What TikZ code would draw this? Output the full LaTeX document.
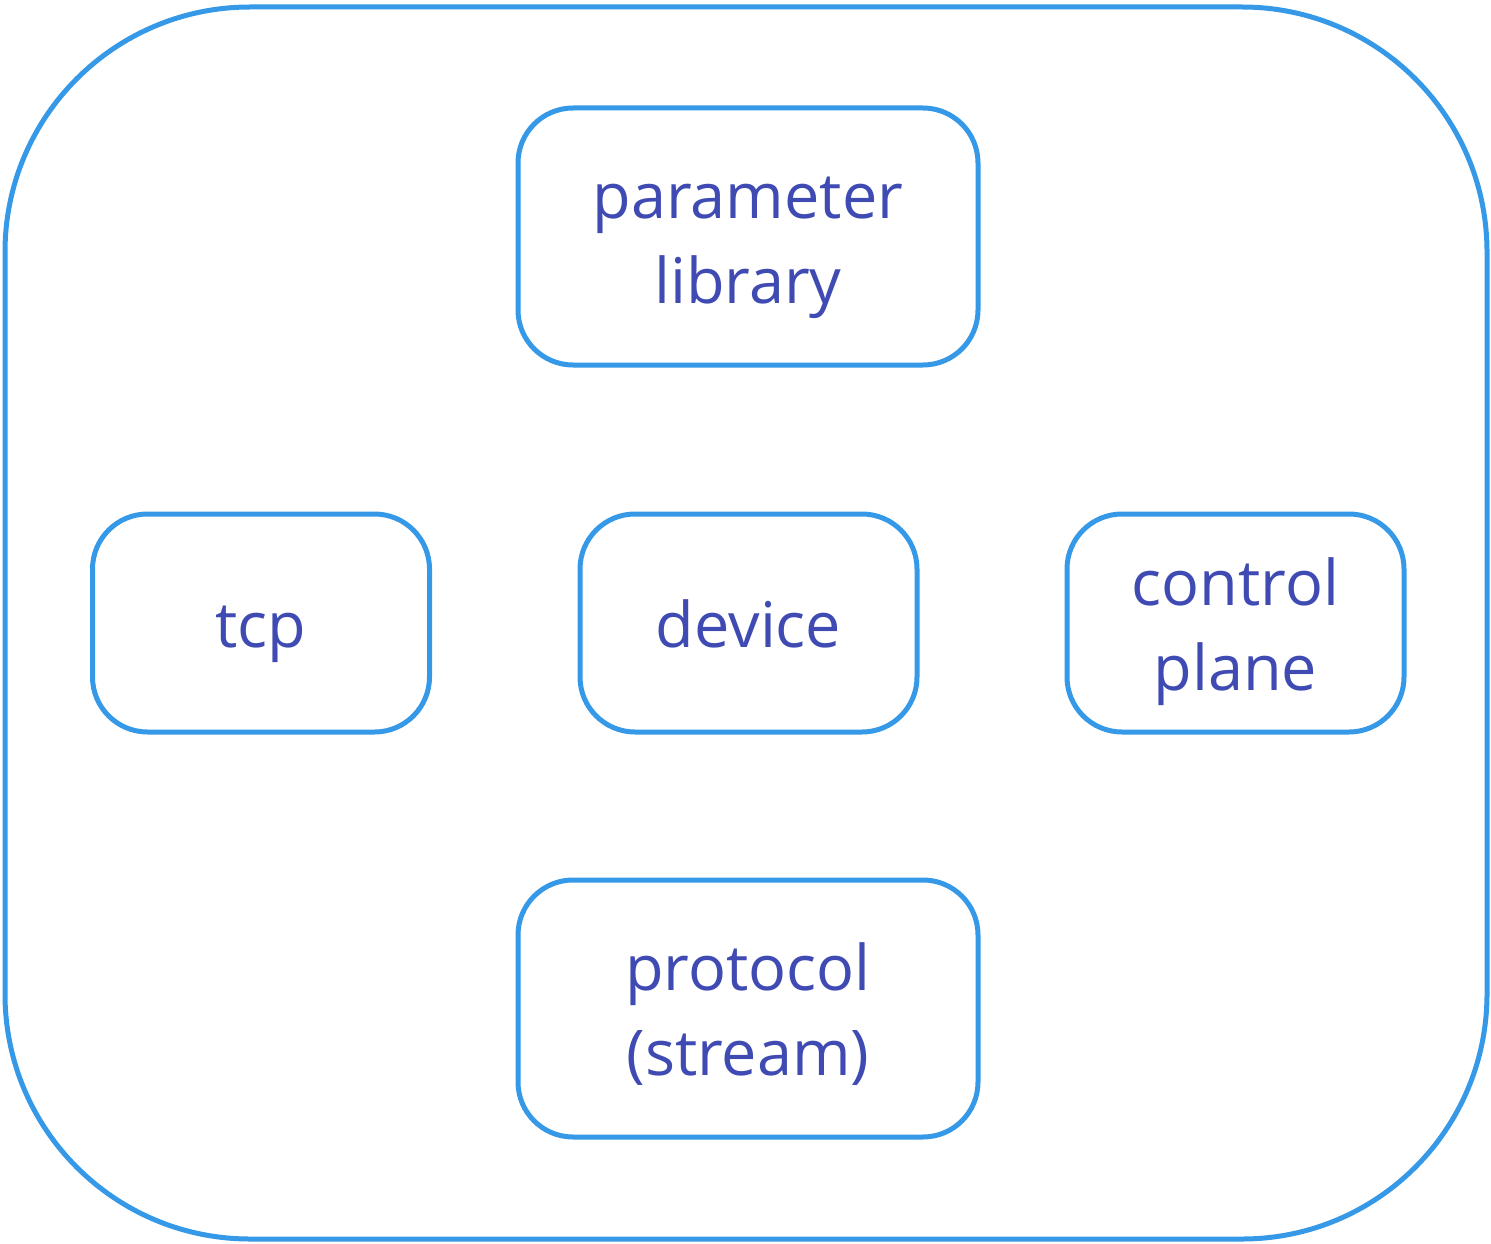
\documentclass[tikz,border=0pt]{standalone}
\usepackage{fontspec}
\setmainfont{Open Sans}
\definecolor{edgeblue}{HTML}{3599E8}
\definecolor{labelink}{HTML}{3F4BB2}
% line strut spanning the font's ascender and descender
\newcommand\lnstrut{\rule[-18pt]{0pt}{85pt}}
% two centred lines, each carrying a full-height strut
\newcommand\twolines[2]{\lnstrut#1\\#2\lnstrut}
\tikzset{
  module/.style={draw=edgeblue, line width=5pt, rounded corners=55pt,
    fill=white, text=labelink, align=center, inner sep=0pt,
    font=\fontsize{63}{85}\selectfont},
  widebox/.style={module, minimum width=460pt, minimum height=257pt},
  smallbox/.style={module, minimum width=337pt, minimum height=218pt},
}
\begin{document}
\begin{tikzpicture}[x=1pt, y=-1pt]
  \useasboundingbox (0,0) rectangle (1491,1244);
  % enclosing container
  \draw[edgeblue, line width=5pt, rounded corners=245pt] (5,7) rectangle (1487,1239);
  % modules
  \node[widebox]  (param)    at (748,236.5)  {\twolines{parameter}{library}};
  \node[smallbox] (tcp)      at (261,623)    {\lnstrut tcp};
  \node[smallbox] (device)   at (748.5,623)  {\lnstrut device};
  \node[smallbox] (control)  at (1235.5,623) {\twolines{control}{plane}};
  \node[widebox]  (protocol) at (748,1008.5) {\twolines{protocol}{(stream)}};
\end{tikzpicture}
\end{document}
